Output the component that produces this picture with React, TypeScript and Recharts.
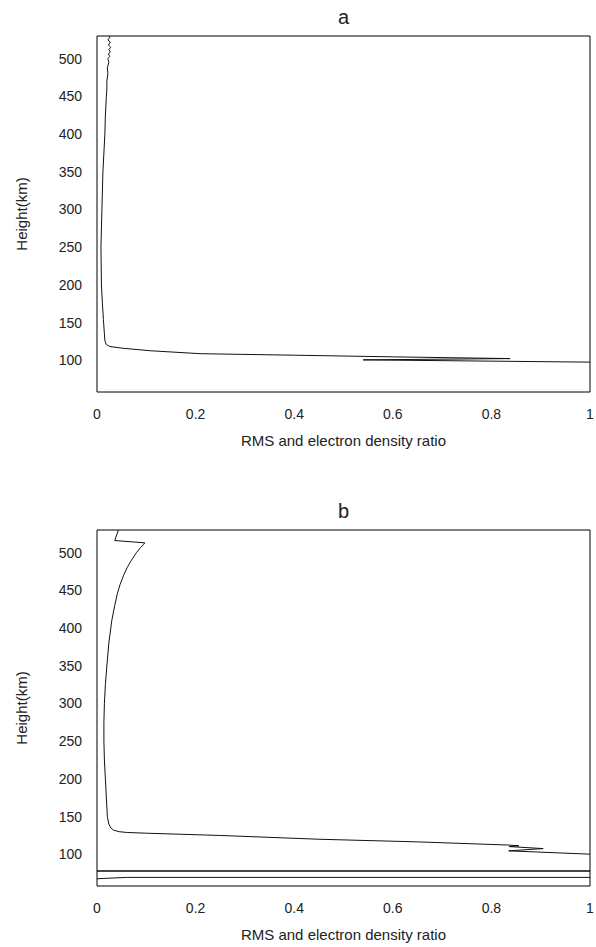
import { LineChart, Line, XAxis, YAxis } from "recharts";

// ratio ticks on the x axis, height ticks (km) on the y axis
const xTicks = [0, 0.2, 0.4, 0.6, 0.8, 1];
const yTicks = [100, 150, 200, 250, 300, 350, 400, 450, 500];
const heightDomain = [58, 530];

// panel a : ratio vs height
const ratioA = [
  0.023, 0.026, 0.022, 0.027, 0.023, 0.028, 0.024, 0.027, 0.023, 0.026, 0.022,
  0.024, 0.021, 0.022, 0.02, 0.02, 0.019, 0.017, 0.016, 0.014, 0.012, 0.01,
  0.008, 0.009, 0.011, 0.013, 0.015, 0.016, 0.019, 0.026, 0.053, 0.108, 0.209,
  0.4, 0.6, 0.838, 0.54, 1.0, 1.1,
];
const heightA = [
  532, 528, 525, 522, 518, 515, 512, 509, 506, 503, 500, 495, 488, 480, 470,
  460, 450, 425, 400, 375, 350, 300, 250, 200, 175, 154, 135, 126, 121, 118.3,
  116, 112.7, 108.8, 106.8, 104.6, 102.3, 100.6, 97.6, 97,
];

// panel b : ratio vs height
const ratioB = [
  0.045, 0.036, 0.097, 0.094, 0.088, 0.08, 0.07, 0.061, 0.054, 0.047, 0.041,
  0.036, 0.03, 0.024, 0.02, 0.017, 0.015, 0.014, 0.014, 0.015, 0.017, 0.019,
  0.021, 0.024, 0.028, 0.034, 0.045, 0.06, 0.1, 0.25, 0.45, 0.65, 0.834, 0.856,
  0.836, 0.905, 0.835, 1.0, 1.2, 1.2, 0, 0, 1.2, 1.2, 0.06, 0, -0.1,
];
const heightB = [
  533, 516, 513, 510.5, 506.5, 500, 490, 480, 470, 458, 445, 430, 410, 380, 350,
  325, 300, 275, 250, 225, 200, 175, 150, 140, 135, 132, 130, 129, 128, 125,
  120, 116.5, 112.3, 111.3, 110.3, 107.6, 104.6, 100.2, 98, 78.1, 78.1, 77.7,
  77.7, 69.4, 69.4, 67.6, 66.5,
];

const zip = (xs: number[], hs: number[]) =>
  xs.map((x, i) => ({ x, h: hs[i] }));

const FONT = "'Liberation Sans', Arial, sans-serif";
const INK = "#222";

type PanelProps = {
  title: string;
  top: number;
  data: { x: number; h: number }[];
};

const Panel = ({ title, top, data }: PanelProps) => {
  return (
    <div style={{ position: "absolute", left: 0, top, width: 596 }}>
      <div
        style={{
          position: "absolute",
          left: 97,
          width: 493,
          top: 5,
          textAlign: "center",
          fontFamily: FONT,
          fontSize: 20,
          lineHeight: "24px",
          color: INK,
        }}
      >
        {title}
      </div>
      <LineChart
        width={596}
        height={452}
        data={data}
        margin={{ top: 36, right: 6, bottom: 0, left: 0 }}
        style={{ fontFamily: FONT }}
      >
        <XAxis
          xAxisId="x"
          dataKey="x"
          type="number"
          domain={[0, 1]}
          allowDataOverflow
          ticks={xTicks}
          tickLine={false}
          tickMargin={11}
          height={60}
          axisLine={{ stroke: "#000" }}
          tick={{ fill: INK, fontSize: 14 }}
          label={{
            value: "RMS and electron density ratio",
            position: "insideBottom",
            offset: 6,
            fill: INK,
            fontSize: 15,
          }}
        />
        <XAxis
          xAxisId="xin"
          dataKey="x"
          type="number"
          domain={[0, 1]}
          allowDataOverflow
          ticks={xTicks}
          mirror
          tick={false}
          axisLine={false}
          tickSize={5}
          tickLine={{ stroke: "#333" }}
        />
        <XAxis
          xAxisId="xtop"
          dataKey="x"
          orientation="top"
          type="number"
          domain={[0, 1]}
          allowDataOverflow
          ticks={xTicks}
          mirror
          tick={false}
          tickSize={5}
          axisLine={{ stroke: "#000" }}
          tickLine={{ stroke: "#333" }}
        />
        <YAxis
          yAxisId="y"
          type="number"
          domain={heightDomain}
          allowDataOverflow
          ticks={yTicks}
          width={97}
          tickLine={false}
          tickMargin={9}
          axisLine={{ stroke: "#000" }}
          tick={{ fill: INK, fontSize: 14 }}
          label={{
            value: "Height(km)",
            angle: -90,
            position: "insideLeft",
            offset: 22,
            fill: INK,
            fontSize: 15,
            style: { textAnchor: "middle" },
          }}
        />
        <YAxis
          yAxisId="yin"
          type="number"
          domain={heightDomain}
          allowDataOverflow
          ticks={yTicks}
          mirror
          tick={false}
          axisLine={false}
          tickSize={5}
          tickLine={{ stroke: "#333" }}
        />
        <YAxis
          yAxisId="yright"
          orientation="right"
          type="number"
          domain={heightDomain}
          allowDataOverflow
          ticks={yTicks}
          mirror
          tick={false}
          tickSize={5}
          axisLine={{ stroke: "#000" }}
          tickLine={{ stroke: "#333" }}
        />
        <Line
          xAxisId="x"
          yAxisId="y"
          dataKey="h"
          type="linear"
          stroke="#111"
          strokeWidth={1}
          dot={false}
          activeDot={false}
          isAnimationActive={false}
        />
      </LineChart>
    </div>
  );
}

export default function App() {
  return (
    <div
      style={{
        position: "absolute",
        left: 0,
        top: 0,
        width: 596,
        height: 947,
        background: "#fff",
      }}
    >
      <Panel title="a" top={0} data={zip(ratioA, heightA)} />
      <Panel title="b" top={494} data={zip(ratioB, heightB)} />
    </div>
  );
}
